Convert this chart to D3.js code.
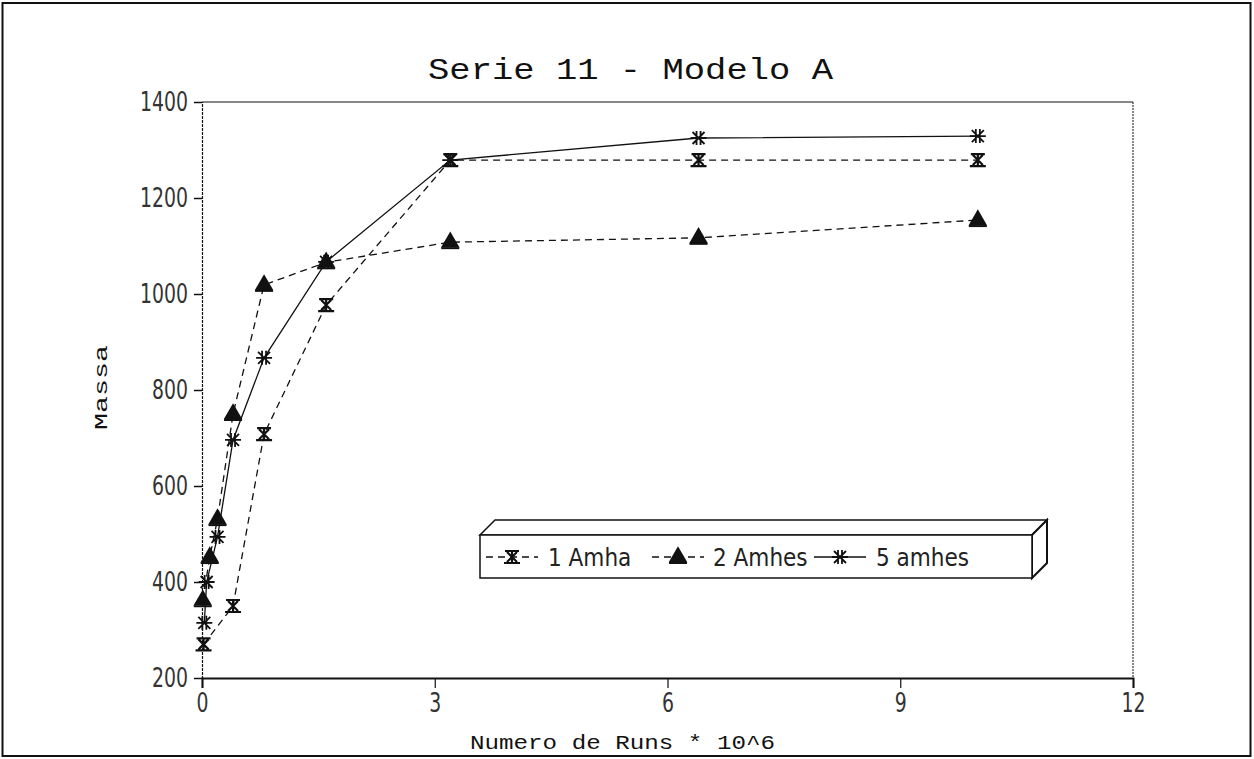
<!DOCTYPE html>
<html>
<head>
<meta charset="utf-8">
<script src="https://cdn.jsdelivr.net/npm/d3@7"></script>
<style>
  html, body { margin: 0; padding: 0; background: #fff; }
  svg { display: block; }
</style>
</head>
<body>
<svg id="chart" width="1254" height="759"></svg>
<script>
// Run counts (millions) and measured mass for each sample group
const runs1 = [0.02, 0.4, 0.8, 1.6, 3.2, 6.4, 10];
const mass1 = [270, 350, 708, 977, 1279, 1279, 1279];

const runs2 = [0.01, 0.1, 0.2, 0.4, 0.8, 1.6, 3.2, 6.4, 10];
const mass2 = [362, 452, 531, 750, 1019, 1066, 1108, 1117, 1154];

const runs3 = [0.03, 0.06, 0.2, 0.4, 0.8, 1.6, 3.2, 6.4, 10];
const mass3 = [315, 400, 494, 696, 867, 1067, 1279, 1325, 1329];

const seriesNames = ["1 Amha", "2 Amhes", "5 amhes"];
const xTicks = [0, 3, 6, 9, 12];
const yTicks = [200, 400, 600, 800, 1000, 1200, 1400];

const titleText = "Serie 11 - Modelo A";
const xTitle = "Numero de Runs * 10^6";
const yTitle = "Massa";

const svg = d3.select("#chart");
const ink = "#111";
const monoFont = "'Liberation Mono', 'Courier New', monospace";
const tickFont = "'Liberation Sans Narrow', 'DejaVu Sans Condensed', 'Liberation Sans', sans-serif";

const plot = { left: 202, right: 1133, top: 102, bottom: 678 };

const x = d3.scaleLinear().domain([0, 12]).range([plot.left, plot.right]);
const y = d3.scaleLinear().domain([200, 1400]).range([plot.bottom, plot.top]);

// outer frame
svg.append("rect")
  .attr("x", 2.5).attr("y", 3).attr("width", 1248).attr("height", 753)
  .attr("fill", "none").attr("stroke", ink).attr("stroke-width", 2);

// title
svg.append("text")
  .attr("x", 428).attr("y", 79)
  .attr("font-family", monoFont).attr("font-size", 30)
  .attr("textLength", 405).attr("lengthAdjust", "spacingAndGlyphs")
  .attr("fill", ink).text(titleText);

// plot frame (top and right edges)
svg.append("line")
  .attr("x1", plot.left).attr("x2", plot.right).attr("y1", plot.top).attr("y2", plot.top)
  .attr("stroke", ink).attr("stroke-width", 1.2);
svg.append("line")
  .attr("x1", plot.right).attr("x2", plot.right).attr("y1", plot.top).attr("y2", plot.bottom)
  .attr("stroke", ink).attr("stroke-width", 1).attr("stroke-dasharray", "2,1");

// y axis
const yAxis = svg.append("g")
  .attr("transform", `translate(${plot.left},0)`)
  .call(d3.axisLeft(y).tickValues(yTicks).tickSize(8).tickPadding(6).tickFormat(d3.format("d")));
yAxis.select(".domain").attr("stroke", ink).attr("stroke-width", 1.2).attr("stroke-dasharray", "3,1");
yAxis.selectAll(".tick line").attr("stroke", ink).attr("stroke-width", 1.5);
yAxis.selectAll(".tick text")
  .attr("font-family", tickFont).attr("font-size", 27).attr("font-weight", 300).attr("fill", "#333")
  .attr("textLength", d => String(d).length * 12).attr("lengthAdjust", "spacingAndGlyphs");

// x axis
const xAxis = svg.append("g")
  .attr("transform", `translate(0,${plot.bottom})`)
  .call(d3.axisBottom(x).tickValues(xTicks).tickSize(10).tickPadding(5).tickFormat(d3.format("d")));
xAxis.select(".domain").attr("stroke", ink).attr("stroke-width", 2);
xAxis.selectAll(".tick line").attr("stroke", ink).attr("stroke-width", 1.2);
xAxis.selectAll(".tick text")
  .attr("font-family", tickFont).attr("font-size", 27).attr("font-weight", 300).attr("fill", "#333")
  .attr("textLength", d => String(d).length * 12).attr("lengthAdjust", "spacingAndGlyphs");

// axis titles
svg.append("text")
  .attr("x", 470).attr("y", 749)
  .attr("font-family", monoFont).attr("font-size", 20)
  .attr("textLength", 305).attr("lengthAdjust", "spacingAndGlyphs")
  .attr("fill", ink).text(xTitle);

svg.append("text")
  .attr("transform", "translate(107,430) rotate(-90)")
  .attr("font-family", monoFont).attr("font-size", 19)
  .attr("textLength", 85).attr("lengthAdjust", "spacingAndGlyphs")
  .attr("fill", ink).text(yTitle);

// marker painters
function markerBars(g, cx, cy) {
  const p = d3.path();
  p.moveTo(cx - 7, cy - 6); p.lineTo(cx + 7, cy - 6);
  p.moveTo(cx - 8, cy + 6); p.lineTo(cx + 8, cy + 6);
  p.moveTo(cx - 5, cy - 5); p.lineTo(cx + 5, cy + 5);
  p.moveTo(cx + 5, cy - 5); p.lineTo(cx - 5, cy + 5);
  p.moveTo(cx, cy - 6); p.lineTo(cx, cy + 6);
  g.append("path").attr("d", p.toString()).attr("stroke", ink).attr("stroke-width", 2.2).attr("fill", "none");
}
function markerTriangle(g, cx, cy) {
  g.append("path")
    .attr("d", d3.symbol(d3.symbolTriangle, 150)())
    .attr("transform", `translate(${cx},${cy})`)
    .attr("fill", ink);
  g.append("line").attr("x1", cx - 9).attr("x2", cx + 9).attr("y1", cy + 6).attr("y2", cy + 6)
    .attr("stroke", ink).attr("stroke-width", 2);
}
function markerStar(g, cx, cy) {
  const p = d3.path();
  p.moveTo(cx - 8, cy); p.lineTo(cx + 8, cy);
  p.moveTo(cx - 2, cy - 7); p.lineTo(cx - 2, cy + 7);
  p.moveTo(cx + 2, cy - 7); p.lineTo(cx + 2, cy + 7);
  p.moveTo(cx - 6, cy - 6); p.lineTo(cx + 6, cy + 6);
  p.moveTo(cx + 6, cy - 6); p.lineTo(cx - 6, cy + 6);
  g.append("path").attr("d", p.toString()).attr("stroke", ink).attr("stroke-width", 1.8).attr("fill", "none");
}

const series = [
  { name: seriesNames[0], xs: runs1, ys: mass1, dash: "7,5", marker: markerBars },
  { name: seriesNames[1], xs: runs2, ys: mass2, dash: "7,5", marker: markerTriangle },
  { name: seriesNames[2], xs: runs3, ys: mass3, dash: null, marker: markerStar }
];

const line = d3.line().x(d => x(d[0])).y(d => y(d[1]));

series.forEach(s => {
  const pts = s.xs.map((v, i) => [v, s.ys[i]]);
  svg.append("path")
    .attr("d", line(pts))
    .attr("fill", "none").attr("stroke", ink).attr("stroke-width", 1.3)
    .attr("stroke-dasharray", s.dash);
});
series.forEach(s => {
  const g = svg.append("g");
  s.xs.forEach((v, i) => s.marker(g, x(v), y(s.ys[i])));
});

// legend box drawn with a bevelled 3D edge
const lg = { x0: 480, y0: 535, x1: 1032, y1: 578, d: 15 };
const legend = svg.append("g");
legend.append("path")
  .attr("d", `M${lg.x0},${lg.y0} L${lg.x0 + lg.d},${lg.y0 - lg.d} L${lg.x1 + lg.d},${lg.y0 - lg.d} L${lg.x1},${lg.y0} Z`)
  .attr("fill", "#fff").attr("stroke", ink).attr("stroke-width", 1.5);
legend.append("path")
  .attr("d", `M${lg.x1},${lg.y0} L${lg.x1 + lg.d},${lg.y0 - lg.d} L${lg.x1 + lg.d},${lg.y1 - lg.d} L${lg.x1},${lg.y1} Z`)
  .attr("fill", "#fff").attr("stroke", ink).attr("stroke-width", 2);
legend.append("rect")
  .attr("x", lg.x0).attr("y", lg.y0).attr("width", lg.x1 - lg.x0).attr("height", lg.y1 - lg.y0)
  .attr("fill", "#fff").attr("stroke", ink).attr("stroke-width", 1.5);

const legendItems = [
  { s: series[0], lx: 486, text: 548 },
  { s: series[1], lx: 652, text: 713 },
  { s: series[2], lx: 814, text: 876 }
];
const ly = 557;
legendItems.forEach(it => {
  legend.append("line")
    .attr("x1", it.lx).attr("x2", it.lx + 52).attr("y1", ly).attr("y2", ly)
    .attr("stroke", ink).attr("stroke-width", 1.5)
    .attr("stroke-dasharray", it.s.dash);
  it.s.marker(legend, it.lx + 26, ly);
  legend.append("text")
    .attr("x", it.text).attr("y", ly + 9)
    .attr("font-family", tickFont).attr("font-size", 24).attr("fill", "#222")
    .text(it.s.name);
});
</script>
</body>
</html>
